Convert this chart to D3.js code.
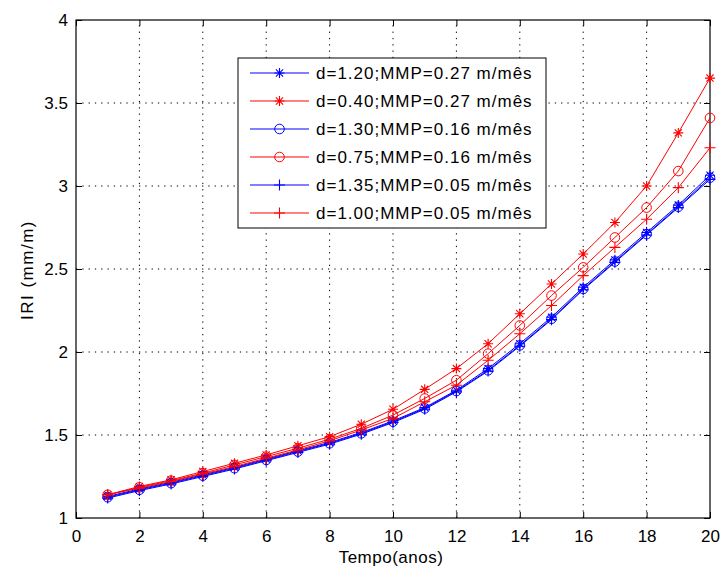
<!DOCTYPE html>
<html>
<head>
<meta charset="utf-8">
<script src="https://cdn.jsdelivr.net/npm/d3@7"></script>
<style>
  body { margin: 0; background: #fff; }
  text { font-family: "Liberation Sans", Arial, sans-serif; }
</style>
</head>
<body>
<svg width="721" height="570"></svg>
<script>
var width = 721;
var height = 570;
var margin = { left: 76, right: 11, top: 20, bottom: 52 };

// anos
var years = [1, 2, 3, 4, 5, 6, 7, 8, 9, 10, 11, 12, 13, 14, 15, 16, 17, 18, 19, 20];

// IRI (mm/m) per series
var blueStar = [1.13, 1.175, 1.215, 1.26, 1.305, 1.355, 1.405, 1.455, 1.515, 1.585, 1.665, 1.77, 1.90, 2.05, 2.21, 2.39, 2.555, 2.72, 2.885, 3.065];
var redStar = [1.14, 1.19, 1.23, 1.28, 1.33, 1.38, 1.435, 1.49, 1.565, 1.655, 1.775, 1.90, 2.05, 2.23, 2.41, 2.59, 2.78, 3.00, 3.32, 3.65];
var blueCircle = [1.125, 1.17, 1.21, 1.255, 1.30, 1.35, 1.40, 1.45, 1.51, 1.58, 1.66, 1.765, 1.89, 2.04, 2.20, 2.38, 2.545, 2.71, 2.875, 3.05];
var redCircle = [1.14, 1.185, 1.225, 1.27, 1.32, 1.37, 1.42, 1.475, 1.54, 1.62, 1.72, 1.83, 1.99, 2.16, 2.34, 2.51, 2.69, 2.87, 3.09, 3.41];
var bluePlus = [1.12, 1.165, 1.205, 1.25, 1.295, 1.345, 1.395, 1.445, 1.505, 1.575, 1.655, 1.76, 1.885, 2.035, 2.195, 2.375, 2.54, 2.705, 2.87, 3.04];
var redPlus = [1.14, 1.18, 1.22, 1.265, 1.31, 1.36, 1.41, 1.465, 1.53, 1.60, 1.70, 1.80, 1.95, 2.11, 2.28, 2.46, 2.63, 2.80, 2.99, 3.23];

var legendLabels = [
  "d=1.20;MMP=0.27 m/mês",
  "d=0.40;MMP=0.27 m/mês",
  "d=1.30;MMP=0.16 m/mês",
  "d=0.75;MMP=0.16 m/mês",
  "d=1.35;MMP=0.05 m/mês",
  "d=1.00;MMP=0.05 m/mês"
];
var xTicks = [0, 2, 4, 6, 8, 10, 12, 14, 16, 18, 20];
var yTicks = [1, 1.5, 2, 2.5, 3, 3.5, 4];

var series = [
  { values: blueStar, color: "#0000ff", marker: "star", label: legendLabels[0] },
  { values: redStar, color: "#ff0000", marker: "star", label: legendLabels[1] },
  { values: blueCircle, color: "#0000ff", marker: "circle", label: legendLabels[2] },
  { values: redCircle, color: "#ff0000", marker: "circle", label: legendLabels[3] },
  { values: bluePlus, color: "#0000ff", marker: "plus", label: legendLabels[4] },
  { values: redPlus, color: "#ff0000", marker: "plus", label: legendLabels[5] }
];

var svg = d3.select("svg");

var xScale = d3.scaleLinear().domain([0, 20]).range([margin.left, width - margin.right]);
var yScale = d3.scaleLinear().domain([1, 4]).range([height - margin.bottom, margin.top]);

var x0 = xScale.range()[0], x1 = xScale.range()[1];
var y0 = yScale.range()[0], y1 = yScale.range()[1];

// grid
svg.append("g")
  .selectAll("line")
  .data(xTicks.slice(1, -1))
  .enter()
  .append("line")
  .attr("x1", (d) => xScale(d))
  .attr("x2", (d) => xScale(d))
  .attr("y1", y0)
  .attr("y2", y1)
  .attr("stroke", "#000")
  .attr("stroke-dasharray", "1.3,5");

svg.append("g")
  .selectAll("line")
  .data(yTicks.slice(1, -1))
  .enter()
  .append("line")
  .attr("y1", (d) => yScale(d))
  .attr("y2", (d) => yScale(d))
  .attr("x1", x0)
  .attr("x2", x1)
  .attr("stroke", "#000")
  .attr("stroke-dasharray", "1.3,5");

// axes, ticks pointing inward on all four sides
function styleAxis(g) {
  g.select(".domain").remove();
  g.selectAll(".tick line").attr("stroke", "#000");
  g.selectAll("text")
    .attr("fill", "#000")
    .style("font-size", "17px")
    .style("font-family", "'Liberation Sans', Arial, sans-serif");
}

svg.append("g")
  .attr("transform", `translate(0, ${y0})`)
  .call(d3.axisBottom(xScale).tickValues(xTicks).tickSize(-6).tickPadding(12).tickFormat(d3.format("d")))
  .call(styleAxis);

svg.append("g")
  .attr("transform", `translate(0, ${y1})`)
  .call(d3.axisTop(xScale).tickValues(xTicks).tickSize(-6).tickFormat(""))
  .call(styleAxis);

svg.append("g")
  .attr("transform", `translate(${x0}, 0)`)
  .call(d3.axisLeft(yScale).tickValues(yTicks).tickSize(-6).tickPadding(8).tickFormat((d) => String(d)))
  .call(styleAxis);

svg.append("g")
  .attr("transform", `translate(${x1}, 0)`)
  .call(d3.axisRight(yScale).tickValues(yTicks).tickSize(-6).tickFormat(""))
  .call(styleAxis);

// box
svg.append("rect")
  .attr("x", x0)
  .attr("y", y1)
  .attr("width", x1 - x0)
  .attr("height", y0 - y1)
  .attr("fill", "none")
  .attr("stroke", "#000")
  .attr("stroke-width", 1.2);

// markers
function drawMarker(g, type, cx, cy, color) {
  if (type === "circle") {
    g.append("circle")
      .attr("cx", cx).attr("cy", cy).attr("r", 4.8)
      .attr("fill", "none").attr("stroke", color).attr("stroke-width", 1);
  } else {
    var s = type === "star" ? 5 : 5.5;
    var path = `M${cx - s},${cy}H${cx + s}M${cx},${cy - s}V${cy + s}`;
    if (type === "star") {
      var k = s * 0.72;
      path += `M${cx - k},${cy - k}L${cx + k},${cy + k}M${cx - k},${cy + k}L${cx + k},${cy - k}`;
    }
    g.append("path").attr("d", path).attr("stroke", color).attr("stroke-width", 1.1).attr("fill", "none");
  }
}

var line = d3.line()
  .x((d, i) => xScale(years[i]))
  .y((d) => yScale(d));

series.forEach((s) => {
  var g = svg.append("g");
  g.append("path")
    .attr("d", line(s.values))
    .attr("fill", "none")
    .attr("stroke", s.color)
    .attr("stroke-width", 1);
  s.values.forEach((v, i) => drawMarker(g, s.marker, xScale(years[i]), yScale(v), s.color));
});

// legend
var legend = svg.append("g");
legend.append("rect")
  .attr("x", 238).attr("y", 58)
  .attr("width", 308).attr("height", 170)
  .attr("fill", "#fff").attr("stroke", "#000").attr("stroke-width", 1);

series.forEach((s, i) => {
  var cy = 73 + i * 28;
  legend.append("line")
    .attr("x1", 250).attr("x2", 309)
    .attr("y1", cy).attr("y2", cy)
    .attr("stroke", s.color).attr("stroke-width", 1);
  drawMarker(legend, s.marker, 279.5, cy, s.color);
  legend.append("text")
    .attr("x", 316).attr("y", cy + 6)
    .style("font-size", "17px")
    .style("letter-spacing", "1px")
    .text(s.label);
});

// axis titles
svg.append("text")
  .attr("x", 391).attr("y", 563)
  .attr("text-anchor", "middle")
  .style("font-size", "17px")
  .style("letter-spacing", "0.5px")
  .text("Tempo(anos)");

svg.append("text")
  .attr("transform", "translate(33, 270) rotate(-90)")
  .attr("text-anchor", "middle")
  .style("font-size", "17px")
  .style("letter-spacing", "1.5px")
  .text("IRI (mm/m)");
</script>
</body>
</html>
